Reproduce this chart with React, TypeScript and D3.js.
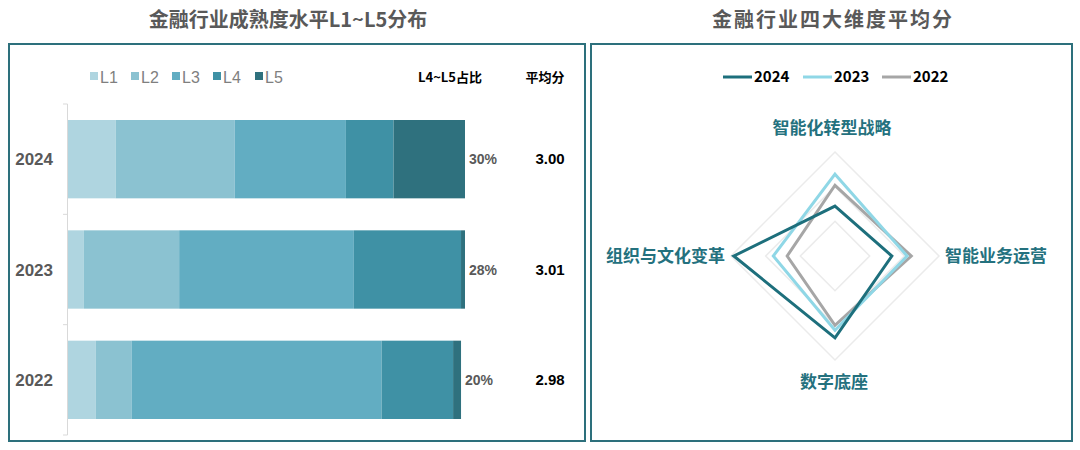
import React from "react";
import * as d3 from "d3";

const years = ["2024", "2023", "2022"];
const levels = ["L1", "L2", "L3", "L4", "L5"];
const shares2024 = [12, 30, 28, 12, 18];
const shares2023 = [4, 24, 44, 27, 1];
const shares2022 = [7, 9, 63, 18, 2];
const highShareLabels = ["30%", "28%", "20%"];
const avgScoreLabels = ["3.00", "3.01", "2.98"];
const levelColors = ["#afd5e0", "#8bc2d1", "#62adc2", "#3f91a5", "#2f717e"];

const dimensions = ["智能化转型战略", "智能业务运营", "数字底座", "组织与文化变革"];
const radarYears = ["2024", "2023", "2022"];
const radar2024 = [2.72, 2.82, 3.18, 3.46];
const radar2023 = [3.18, 3.04, 3.07, 2.89];
const radar2022 = [3.02, 3.1, 3.0, 2.69];
const radarColors = ["#1d6f7c", "#8fd7e6", "#a6a6a6"];
const radarTicks = [2.5, 3.0, 3.5];

const FONT = "'Liberation Sans', 'Noto Sans CJK SC', sans-serif";
const CJK = "'Noto Sans CJK SC', 'Liberation Sans', sans-serif";
const BORDER = "#2d707c";

export default function App() {
  const shares = [shares2024, shares2023, shares2022];
  const rows = years.map((y, i) => {
    const o: any = { year: y };
    levels.forEach((l, j) => (o[l] = shares[i][j]));
    return o;
  });
  const stack = d3.stack<any>().keys(levels)(rows);

  const x = d3.scaleLinear().domain([0, 100]).range([68, 465]);
  const y = d3.scaleBand().domain(years).range([104, 435]).paddingInner(0.29).paddingOuter(0.145);
  const step = y.step();
  const boundaries = d3.range(years.length + 1).map((i) => 104 + i * step);

  // radar
  const cx = 835, cy = 256, R = 104;
  const rScale = d3.scaleLinear().domain([2, 3.5]).range([0, R]);
  const angle = (i: number) => (i * 2 * Math.PI) / dimensions.length;
  const radarData = [radar2024, radar2023, radar2022];
  const radial = d3
    .lineRadial<number>()
    .angle((_, i) => angle(i))
    .radius((d) => rScale(d))
    .curve(d3.curveLinearClosed);

  const legendX = [90, 131, 172, 213, 255];
  const radarLegendX = [723, 803, 882];

  return (
    <div style={{ position: "absolute", left: 0, top: 0 }}>
      <svg width={1080} height={450} style={{ display: "block", background: "#fff" }}>
        {/* titles */}
        <text x={288} y={27} textAnchor="middle" fontFamily={CJK} fontWeight={700} fontSize={20} fill="#595959">
          金融行业成熟度水平L1~L5分布
        </text>
        <text x={833} y={27} textAnchor="middle" fontFamily={CJK} fontWeight={700} fontSize={20} fill="#595959" letterSpacing={2}>
          金融行业四大维度平均分
        </text>
        {/* boxes */}
        <rect x={9} y={44} width={576} height={397} fill="none" stroke={BORDER} strokeWidth={2} />
        <rect x={591} y={44} width={481} height={397} fill="none" stroke={BORDER} strokeWidth={2} />

        {/* left legend */}
        {levels.map((l, i) => (
          <g key={l}>
            <rect x={legendX[i]} y={72} width={8} height={8} fill={levelColors[i]} />
            <text x={legendX[i] + 10} y={82.5} fontFamily={FONT} fontSize={16} fill="#7f7f7f">
              {l}
            </text>
          </g>
        ))}
        <text x={450} y={82} textAnchor="middle" fontFamily={CJK} fontWeight={700} fontSize={13} fill="#000">
          L4~L5占比
        </text>
        <text x={545} y={82} textAnchor="middle" fontFamily={CJK} fontWeight={700} fontSize={13} fill="#000">
          平均分
        </text>

        {/* axis */}
        <line x1={67.5} x2={67.5} y1={104} y2={435} stroke="#d9d9d9" strokeWidth={1} />
        {boundaries.map((b, i) => (
          <line key={i} x1={63} x2={67.5} y1={b} y2={b} stroke="#d9d9d9" strokeWidth={1} />
        ))}

        {/* bars */}
        {stack.map((layer, li) => (
          <g key={layer.key} fill={levelColors[li]}>
            {layer.map((d, i) => (
              <rect
                key={i}
                x={x(d[0])}
                y={y(years[i])!}
                width={Math.max(0, x(d[1]) - x(d[0]))}
                height={y.bandwidth()}
              />
            ))}
          </g>
        ))}

        {/* labels */}
        {years.map((yr, i) => {
          const cyb = y(yr)! + y.bandwidth() / 2;
          const end = x(d3.sum(shares[i]));
          return (
            <g key={yr}>
              <text x={53} y={cyb + 6} textAnchor="end" fontFamily={FONT} fontWeight={700} fontSize={17} fill="#595959">
                {yr}
              </text>
              <text x={end + 4} y={cyb + 5} fontFamily={FONT} fontWeight={700} fontSize={14} fill="#595959">
                {highShareLabels[i]}
              </text>
              <text x={550} y={cyb + 5} textAnchor="middle" fontFamily={FONT} fontWeight={700} fontSize={15} fill="#000">
                {avgScoreLabels[i]}
              </text>
            </g>
          );
        })}

        {/* radar legend */}
        {radarYears.map((yr, i) => (
          <g key={yr}>
            <line x1={radarLegendX[i]} x2={radarLegendX[i] + 29} y1={77} y2={77} stroke={radarColors[i]} strokeWidth={3} />
            <text x={radarLegendX[i] + 31} y={82} fontFamily={CJK} fontWeight={700} fontSize={15} fill="#000">
              {yr}
            </text>
          </g>
        ))}

        {/* radar grid */}
        <g transform={`translate(${cx},${cy})`}>
          {radarTicks.map((t) => (
            <path key={t} d={radial(dimensions.map(() => t))!} fill="none" stroke="#ebebeb" strokeWidth={1.5} />
          ))}
          {radarData
            .slice()
            .reverse()
            .map((vals, ri) => {
              const idx = radarData.length - 1 - ri;
              return (
                <path key={idx} d={radial(vals)!} fill="none" stroke={radarColors[idx]} strokeWidth={3} strokeLinejoin="miter" />
              );
            })}
        </g>

        {/* radar axis labels */}
        <text x={832} y={134} textAnchor="middle" fontFamily={CJK} fontWeight={700} fontSize={17} fill="#24717e">
          {dimensions[0]}
        </text>
        <text x={945} y={262} textAnchor="start" fontFamily={CJK} fontWeight={700} fontSize={17} fill="#24717e">
          {dimensions[1]}
        </text>
        <text x={834} y={388} textAnchor="middle" fontFamily={CJK} fontWeight={700} fontSize={17} fill="#24717e">
          {dimensions[2]}
        </text>
        <text x={725} y={262} textAnchor="end" fontFamily={CJK} fontWeight={700} fontSize={17} fill="#24717e">
          {dimensions[3]}
        </text>
      </svg>
    </div>
  );
}
